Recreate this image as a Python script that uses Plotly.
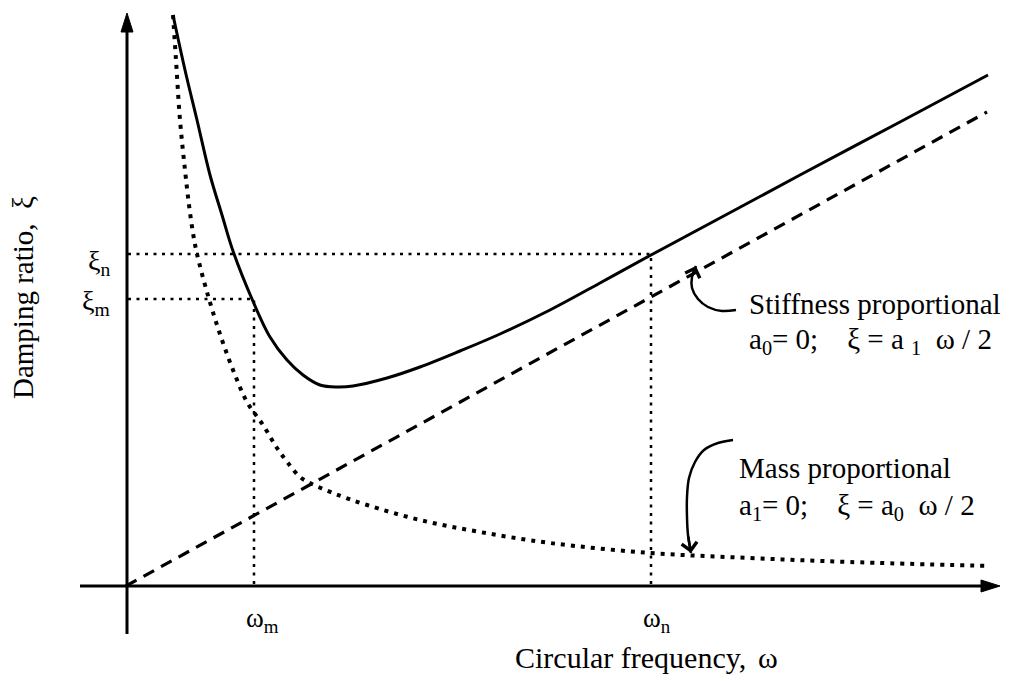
import plotly.graph_objects as go

# ---- data (ω horizontal, ξ vertical, arbitrary units) ----
total_w = [0.47, 0.59, 0.71, 0.84, 0.96, 1.07, 1.26, 1.44, 1.61, 1.77, 1.94, 2.11, 2.27,
           2.61, 2.94, 3.34, 3.74, 4.24, 4.74, 5.25, 5.94, 6.74, 7.74, 8.62]
total_xi = [5.71, 5.16, 4.66, 4.11, 3.71, 3.35, 2.87, 2.49, 2.26, 2.11, 2.01, 1.99, 2.00,
            2.08, 2.19, 2.35, 2.52, 2.76, 3.03, 3.31, 3.68, 4.11, 4.64, 5.11]

mass_w = [0.47, 0.50, 0.54, 0.59, 0.63, 0.67, 0.71, 0.83, 0.96, 1.09, 1.21, 1.37, 1.51, 1.62,
          1.74, 1.84, 2.07, 2.41, 2.94, 3.54, 4.24, 5.25, 6.24, 7.24, 8.64]
mass_xi = [5.71, 5.26, 4.66, 4.16, 3.81, 3.53, 3.32, 2.87, 2.46, 2.11, 1.84, 1.61, 1.38, 1.23,
           1.09, 1.03, 0.93, 0.81, 0.66, 0.54, 0.43, 0.33, 0.28, 0.24, 0.20]

stiff_w = [0.0, 8.61]
stiff_xi = [0.0, 4.74]

omega_m, xi_m = 1.28, 2.87
omega_n, xi_n = 5.25, 3.32

# pointer curves next to the labels
stiff_ptr_w = [6.10, 5.96, 5.82, 5.72, 5.66, 5.66, 5.70]
stiff_ptr_xi = [2.76, 2.75, 2.79, 2.87, 2.98, 3.09, 3.20]
mass_ptr_w = [6.07, 5.92, 5.78, 5.69, 5.63, 5.61, 5.61, 5.62, 5.65]
mass_ptr_xi = [1.46, 1.43, 1.36, 1.24, 1.08, 0.89, 0.69, 0.51, 0.33]

# axis extents
x_axis_from, x_axis_to = -0.46, 8.74
y_axis_from, y_axis_to = -0.48, 5.73

FONT = "Liberation Serif"
fig = go.Figure()

# reference (guide) lines
guide = dict(color="black", width=2.5, dash="3px,5.5px")
fig.add_trace(go.Scatter(x=[0.02, omega_n, omega_n], y=[xi_n, xi_n, 0], mode="lines", line=guide))
fig.add_trace(go.Scatter(x=[0.02, omega_m, omega_m], y=[xi_m, xi_m, 0], mode="lines", line=guide))

# curves
fig.add_trace(go.Scatter(x=stiff_w, y=stiff_xi, mode="lines",
                         line=dict(color="black", width=3.2, dash="12px,8px")))
fig.add_trace(go.Scatter(x=mass_w, y=mass_xi, mode="lines", line_shape="spline",
                         line=dict(color="black", width=4, dash="4px,6px")))
fig.add_trace(go.Scatter(x=total_w, y=total_xi, mode="lines", line_shape="spline",
                         line=dict(color="black", width=3)))

# pointers
for pw, pxi in [(stiff_ptr_w, stiff_ptr_xi), (mass_ptr_w, mass_ptr_xi)]:
    fig.add_trace(go.Scatter(x=pw, y=pxi, mode="lines", line_shape="spline",
                             line=dict(color="black", width=2.5)))

shapes = [
    dict(type="line", xref="x", yref="y", x0=x_axis_from, x1=x_axis_to - 0.1, y0=0, y1=0,
         line=dict(color="black", width=3)),
    dict(type="line", xref="x", yref="y", x0=0.01, x1=0.01, y0=y_axis_from, y1=y_axis_to - 0.1,
         line=dict(color="black", width=3)),
    # arrowheads (pixel sized, anchored at the axis ends)
    dict(type="path", xref="x", yref="y", xsizemode="pixel", ysizemode="pixel",
         xanchor=x_axis_to, yanchor=0, path="M 0 0 L -19 6 L -19 -6 Z",
         fillcolor="black", line=dict(color="black", width=1)),
    dict(type="path", xref="x", yref="y", xsizemode="pixel", ysizemode="pixel",
         xanchor=0.01, yanchor=y_axis_to, path="M 0 0 L -6 -19 L 6 -19 Z",
         fillcolor="black", line=dict(color="black", width=1)),
]

nb = "\u00a0"
ann = [
    dict(x=-1.03, y=2.88, text=f"Damping ratio,{nb*2}ξ", textangle=-90, font=dict(size=29)),
    dict(x=3.87, y=-0.71, text="Circular frequency,", xanchor="left", font=dict(size=30)),
    dict(x=6.42, y=-0.71, text="ω", font=dict(size=30)),
    dict(x=-0.14, y=3.24, text="ξ<sub>n</sub>", xanchor="right", font=dict(size=28)),
    dict(x=-0.14, y=2.84, text="ξ<sub>m</sub>", xanchor="right", font=dict(size=28)),
    dict(x=omega_m + 0.08, y=-0.34, text="ω<sub>m</sub>", font=dict(size=27)),
    dict(x=omega_n + 0.06, y=-0.34, text="ω<sub>n</sub>", font=dict(size=27)),
    dict(x=6.21, y=2.82, text="Stiffness proportional", xanchor="left", font=dict(size=29)),
    dict(x=6.21, y=2.45, text=f"a<sub>0</sub>= 0;{nb*4}ξ = a <sub>1</sub>{nb*2}ω / 2",
         xanchor="left", font=dict(size=29)),
    dict(x=6.11, y=1.18, text="Mass proportional", xanchor="left", font=dict(size=29)),
    dict(x=6.11, y=0.79, text=f"a<sub>1</sub>= 0;{nb*4}ξ = a<sub>0</sub>{nb*2}ω / 2",
         xanchor="left", font=dict(size=29)),
]
for a in ann:
    a.setdefault("showarrow", False)
    a["xref"] = "x"
    a["yref"] = "y"
    a["font"]["family"] = FONT
    a["font"]["color"] = "black"

# pointer arrowheads
for pw, pxi in [(stiff_ptr_w, stiff_ptr_xi), (mass_ptr_w, mass_ptr_xi)]:
    ann.append(dict(x=pw[-1], y=pxi[-1], ax=pw[-2], ay=pxi[-2], xref="x", yref="y",
                    axref="x", ayref="y", text="", showarrow=True, arrowhead=4,
                    arrowsize=1.2, arrowwidth=2.5, arrowcolor="black", standoff=0))

fig.update_layout(
    width=1013, height=681, autosize=False,
    margin=dict(l=0, r=0, t=0, b=0),
    paper_bgcolor="white", plot_bgcolor="white",
    showlegend=False,
    xaxis=dict(visible=False, range=[-1.26, 8.87], fixedrange=True),
    yaxis=dict(visible=False, range=[-0.95, 5.86], fixedrange=True),
    shapes=shapes, annotations=ann,
)
fig.write_html("out.html")
